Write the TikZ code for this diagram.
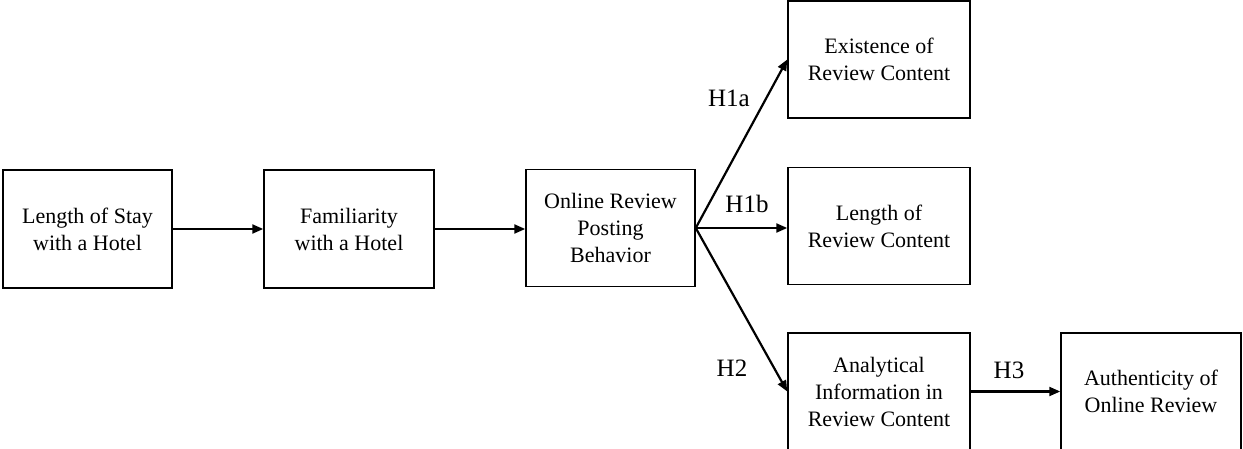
\documentclass[tikz,border=0pt]{standalone}
\usepackage{fontspec}
\setmainfont{Liberation Serif}
\usetikzlibrary{arrows.meta}
\tikzset{
  box/.style={draw, line width=1.5pt, inner sep=0pt, align=center,
    font=\fontsize{22pt}{27pt}\selectfont},
  conn/.style={line width=2.2pt, -{Triangle[length=11pt,width=9pt]}},
  hyp/.style={inner sep=0pt, font=\fontsize{25pt}{30pt}\selectfont}
}
\begin{document}
\begin{tikzpicture}[x=1pt,y=-1pt]
\useasboundingbox (0,0) rectangle (1243,449);
\clip (0,0) rectangle (1243,449);
\node[box, minimum width=169pt, minimum height=118pt] (b1) at (87.5,229) {Length of Stay\\with a Hotel};
\node[box, minimum width=170pt, minimum height=118pt] (b2) at (349,229) {Familiarity\\with a Hotel};
\node[box, minimum width=169pt, minimum height=117pt] (b3) at (610.5,228) {Online Review\\Posting\\Behavior};
\node[box, minimum width=182pt, minimum height=117pt] (b4) at (879,59.5) {Existence of\\Review Content};
\node[box, minimum width=182pt, minimum height=117pt] (b5) at (879,226) {Length of\\Review Content};
\node[box, minimum width=182pt, minimum height=117pt] (b6) at (879,391.5) {Analytical\\Information in\\Review Content};
\node[box, minimum width=180pt, minimum height=117pt] (b7) at (1151,391.5) {Authenticity of\\Online Review};
\draw[conn] (b1) -- (b2);
\draw[conn] (b2.east) -- (b2.east -| b3.west);
\draw[conn] (b3.east) -- (b4.west);
\draw[conn] (b3.east) -- (b3.east -| b5.west);
\draw[conn] (b3.east) -- (b6.west);
\draw[conn] (b6) -- (b7);
\node[hyp] (h1a) at (729,98) {H1a};
\node[hyp] (h1b) at (747,204) {H1b};
\node[hyp] (h2) at (732,368) {H2};
\node[hyp] (h3) at (1009,370) {H3};
\end{tikzpicture}
\end{document}
